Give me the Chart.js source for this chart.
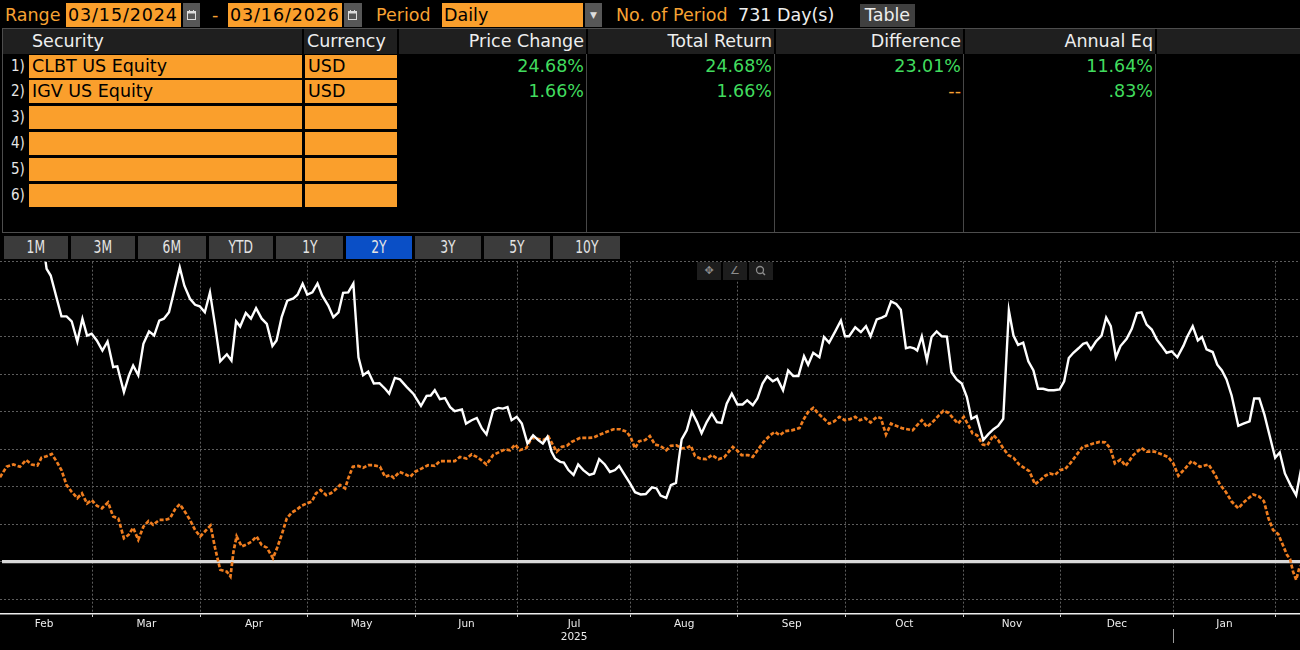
<!DOCTYPE html>
<html>
<head>
<meta charset="utf-8">
<title>CLBT vs IGV</title>
<script src="https://cdn.jsdelivr.net/npm/chart.js@4.4.1/dist/chart.umd.min.js"></script>
<style>
    html, body { margin: 0; padding: 0; background: #000; }
    body { position: relative; width: 1300px; height: 650px; overflow: hidden;
           font-family: "DejaVu Sans", sans-serif; font-size: 17.5px; color: #eeeeee; }
    .a { position: absolute; white-space: nowrap; }
    .org { color: #f7a233; top: 3px; line-height: 24px; }
    .txt { top: 3px; line-height: 24px; }
    .box { top: 3px; background: #fa9f2c; color: #000; height: 24px; line-height: 24px; padding-left: 2px; box-sizing: border-box; }
    .date { letter-spacing: 0.9px; }
    .cal { top: 3px; background: #575757; height: 24px; }
    .hdr { top: 29px; height: 25px; line-height: 25px; }
    .hbg { top: 29px; left: 3px; width: 1297px; height: 25px; background: #1f1f1f; }
    .hdiv { top: 29px; width: 2px; height: 25px; background: #000; }
    .num { color: #e6e6e6; font-family: "DejaVu Sans Condensed", "DejaVu Sans"; font-size: 15px; left: 11px; height: 23px; line-height: 23px; }
    .cell { background: #fa9f2c; height: 23px; line-height: 23px; color: #000; padding-left: 3px; box-sizing: border-box; }
    .val { color: #41dc5e; line-height: 24px; }
    .dash { color: #f7a233; line-height: 24px; }
    .vsep { width: 1px; top: 54px; height: 178px; background: #474747; }
    .btn { top: 236px; height: 23px; line-height: 23px; background: #3b3b3b; color: #e4e4e4; text-align: center;
           font-family: "DejaVu Sans Condensed", "DejaVu Sans"; font-size: 17.5px; }
    .btn span { display: inline-block; transform: scaleX(0.78); }
    .btn.on { background: #0a4fc6; }
    .tool { top: 262px; width: 24px; height: 18px; background: #1d1d1d; color: #8c8c8c; font-size: 11px;
            line-height: 18px; text-align: center; }
    #chartBox { position: absolute; left: 0; top: 258px; width: 1300px; height: 392px; }
</style>
</head>
<body>

<div class="a org" style="left:5px">Range</div>
<div class="a box date" style="left:66px;width:115px">03/15/2024</div>
<div class="a cal" style="left:183px;width:17px">
    <svg width="17" height="24"><rect x="4.5" y="8.5" width="8" height="8" fill="none" stroke="#ddd"/><rect x="4.5" y="8.5" width="8" height="2" fill="#ddd"/><line x1="6.5" y1="7" x2="6.5" y2="9" stroke="#ddd"/><line x1="10.5" y1="7" x2="10.5" y2="9" stroke="#ddd"/></svg>
</div>
<div class="a org" style="left:212px">-</div>
<div class="a box date" style="left:228px;width:114px">03/16/2026</div>
<div class="a cal" style="left:344px;width:18px">
    <svg width="18" height="24"><rect x="4.5" y="8.5" width="8" height="8" fill="none" stroke="#ddd"/><rect x="4.5" y="8.5" width="8" height="2" fill="#ddd"/><line x1="6.5" y1="7" x2="6.5" y2="9" stroke="#ddd"/><line x1="10.5" y1="7" x2="10.5" y2="9" stroke="#ddd"/></svg>
</div>
<div class="a org" style="left:376px">Period</div>
<div class="a box" style="left:442px;width:141px">Daily</div>
<div class="a cal" style="left:585px;width:17px;color:#ddd;font-size:9px;text-align:center;line-height:24px">&#9660;</div>
<div class="a org" style="left:616px">No. of Period</div>
<div class="a txt" style="left:738px">731 Day(s)</div>
<div class="a" style="left:860px;top:4px;width:55px;height:23px;line-height:23px;background:#404040;text-align:center">Table</div>

<div class="a" style="left:2px;top:28px;width:1298px;height:1px;background:#4d4d4d"></div>
<div class="a" style="left:2px;top:28px;width:1px;height:205px;background:#4d4d4d"></div>
<div class="a" style="left:2px;top:232px;width:1298px;height:1px;background:#4d4d4d"></div>

<div class="a hbg"></div>
<div class="a hdiv" style="left:302px"></div>
<div class="a hdiv" style="left:397px"></div>
<div class="a hdiv" style="left:586px"></div>
<div class="a hdiv" style="left:774px"></div>
<div class="a hdiv" style="left:963px"></div>
<div class="a hdiv" style="left:1155px"></div>
<div class="a hdr" style="left:32px">Security</div>
<div class="a hdr" style="left:307px">Currency</div>
<div class="a hdr" style="right:716px">Price Change</div>
<div class="a hdr" style="right:528px">Total Return</div>
<div class="a hdr" style="right:339px">Difference</div>
<div class="a hdr" style="right:147px">Annual Eq</div>

<div class="a vsep" style="left:586px"></div>
<div class="a vsep" style="left:774px"></div>
<div class="a vsep" style="left:963px"></div>
<div class="a vsep" style="left:1155px"></div>

<div class="a num" style="top:55px">1)</div>
<div class="a num" style="top:80px">2)</div>
<div class="a num" style="top:106px">3)</div>
<div class="a num" style="top:132px">4)</div>
<div class="a num" style="top:158px">5)</div>
<div class="a num" style="top:184px">6)</div>

<div class="a cell" style="left:29px;top:55px;width:273px">CLBT US Equity</div>
<div class="a cell" style="left:305px;top:55px;width:92px">USD</div>
<div class="a cell" style="left:29px;top:80px;width:273px">IGV US Equity</div>
<div class="a cell" style="left:305px;top:80px;width:92px">USD</div>
<div class="a cell" style="left:29px;top:106px;width:273px"></div>
<div class="a cell" style="left:305px;top:106px;width:92px"></div>
<div class="a cell" style="left:29px;top:132px;width:273px"></div>
<div class="a cell" style="left:305px;top:132px;width:92px"></div>
<div class="a cell" style="left:29px;top:158px;width:273px"></div>
<div class="a cell" style="left:305px;top:158px;width:92px"></div>
<div class="a cell" style="left:29px;top:184px;width:273px"></div>
<div class="a cell" style="left:305px;top:184px;width:92px"></div>

<div class="a val" style="top:54px;right:716px">24.68%</div>
<div class="a val" style="top:54px;right:528px">24.68%</div>
<div class="a val" style="top:54px;right:339px">23.01%</div>
<div class="a val" style="top:54px;right:147px">11.64%</div>
<div class="a val" style="top:79px;right:716px">1.66%</div>
<div class="a val" style="top:79px;right:528px">1.66%</div>
<div class="a dash" style="top:79px;right:339px">--</div>
<div class="a val" style="top:79px;right:147px">.83%</div>

<div class="a btn" style="left:4px;width:64px"><span>1M</span></div>
<div class="a btn" style="left:71px;width:64px"><span>3M</span></div>
<div class="a btn" style="left:138px;width:68px"><span>6M</span></div>
<div class="a btn" style="left:209px;width:64px"><span>YTD</span></div>
<div class="a btn" style="left:276px;width:67px"><span>1Y</span></div>
<div class="a btn on" style="left:346px;width:66px"><span>2Y</span></div>
<div class="a btn" style="left:415px;width:66px"><span>3Y</span></div>
<div class="a btn" style="left:484px;width:66px"><span>5Y</span></div>
<div class="a btn" style="left:553px;width:67px"><span>10Y</span></div>

<div id="chartBox"><canvas id="grafico" width="1300" height="392"></canvas></div>

<div class="a tool" style="left:697px">&#10021;</div>
<div class="a tool" style="left:723px">&#8736;</div>
<div class="a tool" style="left:749px">
    <svg width="24" height="18"><circle cx="11" cy="8" r="3.5" fill="none" stroke="#8c8c8c" stroke-width="1.3"/><line x1="13.5" y1="10.5" x2="16" y2="13" stroke="#8c8c8c" stroke-width="1.5"/></svg>
</div>

<script>
// x = trading day counted from the start of Feb 2025, y = % change
const monthLabels = ['Feb', 'Mar', 'Apr', 'May', 'Jun', 'Jul', 'Aug', 'Sep', 'Oct', 'Nov', 'Dec', 'Jan'];
const monthStarts = [0, 19, 40, 61, 82, 102, 124, 145, 166, 189, 208, 230, 250];
const yearMonth = 'Jul';
const yearLabel = '2025';
const yTicks = [-10, 0, 10, 20, 30, 40, 50, 60, 70, 80];

const clbtPoints = [
    [0.9, 88], [9.6, 82], [10.0, 78.1], [10.8, 76.3], [12.9, 65.4], [13.9, 65.4], [14.9, 64.1], [16.0, 58.7],
    [17.0, 64.8], [17.9, 60.3], [18.8, 60.8], [19.8, 59.0], [20.9, 56.3], [21.9, 58.7], [23.0, 51.9], [23.8, 52.1],
    [25.1, 45.2], [26.1, 49.7], [26.9, 52.3], [27.9, 49.7], [28.9, 58.1], [30.0, 61.4], [31.0, 60.3], [32.0, 64.3],
    [32.9, 64.8], [33.9, 66.5], [34.7, 71.0], [36.0, 78.5], [36.9, 73.6], [38.0, 70.1], [39.0, 68.5], [39.9, 68.1],
    [40.9, 66.5], [41.9, 71.8], [42.9, 63.0], [43.9, 53.4], [45.2, 55.3], [46.1, 53.6], [47.0, 64.1], [47.8, 62.7],
    [48.9, 66.3], [49.9, 64.8], [50.9, 67.6], [52.0, 64.8], [53.0, 63.4], [54.1, 57.5], [54.9, 59.0], [55.9, 65.2],
    [57.0, 69.6], [58.2, 70.2], [59.0, 71.2], [60.0, 74.1], [60.9, 71.2], [61.9, 71.8], [62.9, 74.2], [63.8, 71.0],
    [65.0, 68.3], [66.0, 65.2], [67.0, 66.5], [67.9, 71.7], [68.9, 71.8], [69.9, 74.2], [70.9, 54.5], [71.8, 49.7],
    [72.8, 50.7], [73.9, 47.5], [75.0, 47.6], [76.1, 46.1], [76.9, 44.8], [78.0, 49.0], [79.0, 48.6], [80.3, 46.6],
    [81.6, 44.8], [83.1, 41.5], [84.2, 44.2], [85.0, 44.3], [85.8, 45.7], [86.8, 43.3], [87.8, 43.6], [88.8, 41.2],
    [89.7, 40.1], [91.1, 40.6], [91.9, 36.8], [93.0, 37.7], [94.0, 38.3], [95.0, 35.5], [95.9, 33.9], [97.2, 40.4],
    [98.2, 41.0], [99.1, 40.8], [100.0, 41.2], [100.8, 37.7], [101.8, 38.6], [102.8, 36.8], [103.9, 31.5], [105.0, 33.7],
    [106.0, 32.4], [106.9, 31.5], [107.8, 33.3], [108.6, 29.3], [109.3, 27.5], [110.3, 26.6], [111.0, 26.4], [111.9, 24.4],
    [112.9, 23.1], [113.8, 25.9], [114.8, 24.4], [116.0, 23.1], [116.9, 23.5], [117.9, 27.3], [119.0, 25.9], [120.0, 23.9],
    [121.0, 24.4], [121.8, 25.5], [122.7, 23.5], [123.9, 20.9], [124.9, 18.5], [126.0, 17.9], [127.0, 18.0], [128.2, 19.8],
    [129.1, 19.5], [129.9, 17.6], [131.0, 17.0], [131.9, 20.4], [132.9, 21.0], [133.4, 26.6], [134.0, 32.6], [135.0, 35.0],
    [136.0, 39.9], [137.0, 37.2], [137.9, 34.2], [138.9, 37.2], [139.9, 39.5], [140.9, 37.2], [141.8, 37.0], [142.8, 42.1],
    [143.8, 44.8], [144.9, 41.9], [145.9, 41.9], [146.8, 43.0], [147.9, 41.7], [148.8, 43.5], [149.8, 47.5], [150.7, 49.4],
    [151.8, 48.1], [152.7, 48.8], [153.8, 45.7], [154.8, 51.0], [155.8, 49.5], [156.8, 49.5], [157.9, 54.8], [158.7, 52.5],
    [159.7, 55.7], [160.9, 54.5], [161.8, 59.9], [162.8, 58.4], [164.0, 61.4], [165.1, 64.3], [165.9, 60.1], [166.7, 60.1],
    [167.9, 62.5], [169.0, 61.2], [170.0, 62.8], [170.9, 60.1], [172.1, 64.6], [173.1, 65.1], [173.9, 65.6], [174.9, 69.4],
    [175.9, 68.7], [176.8, 67.2], [177.8, 56.9], [178.6, 57.2], [179.4, 56.9], [180.0, 56.3], [180.9, 60.1], [181.9, 53.7],
    [182.8, 59.9], [183.8, 61.4], [184.8, 60.1], [185.8, 60.0], [186.7, 50.5], [187.7, 48.6], [188.7, 47.5], [189.7, 43.9],
    [190.6, 38.1], [191.6, 38.8], [192.9, 32.4], [193.9, 34.0], [194.9, 35.3], [195.8, 36.2], [196.8, 38.1], [197.9, 67.0],
    [198.8, 60.3], [199.7, 57.8], [200.7, 58.4], [201.7, 53.4], [202.7, 51.0], [203.6, 46.1], [204.6, 46.1], [205.6, 45.7],
    [206.7, 45.7], [207.8, 45.9], [208.7, 48.1], [209.6, 54.3], [210.5, 55.7], [211.5, 56.9], [212.4, 58.1], [213.1, 58.4],
    [213.9, 56.6], [214.9, 58.7], [216.0, 60.3], [216.9, 65.1], [217.8, 62.8], [218.8, 54.5], [219.7, 57.5], [220.9, 59.4],
    [221.9, 62.1], [222.9, 66.3], [223.8, 66.5], [224.8, 63.2], [225.8, 61.9], [226.8, 59.2], [227.7, 57.6], [228.7, 55.7],
    [229.7, 56.1], [230.8, 54.5], [232.0, 57.6], [232.7, 59.9], [233.8, 62.8], [234.8, 59.0], [235.6, 59.9], [236.5, 56.6],
    [237.7, 55.9], [238.6, 52.5], [239.5, 51.0], [240.4, 48.6], [241.4, 44.3], [242.7, 36.2], [243.7, 36.8], [244.9, 37.4],
    [245.8, 43.5], [246.8, 43.5], [247.8, 39.2], [248.8, 33.7], [249.9, 27.7], [250.8, 29.1], [251.8, 23.5], [252.9, 20.4],
    [254.0, 17.7], [255.0, 25.0]
];

const igvPoints = [
    [0.9, 22.5], [2.2, 25.3], [3.5, 25.9], [4.8, 25.3], [6.0, 27.1], [7.1, 25.9], [8.2, 25.6], [9.0, 27.7],
    [10.0, 28.1], [11.0, 28.7], [12.0, 26.6], [12.9, 24.4], [13.9, 20.4], [14.9, 18.6], [16.0, 16.9], [16.9, 18.2],
    [17.9, 15.5], [18.8, 16.4], [19.8, 14.9], [20.8, 14.2], [22.0, 15.8], [23.0, 12.0], [24.0, 11.5], [25.1, 6.2],
    [26.0, 7.1], [26.9, 9.0], [27.9, 5.8], [28.9, 9.3], [29.9, 10.8], [30.8, 9.8], [32.0, 11.1], [33.1, 11.1],
    [34.1, 11.5], [35.1, 14.0], [36.0, 15.3], [37.0, 13.3], [38.0, 11.1], [39.0, 8.4], [40.0, 6.7], [40.9, 8.0],
    [42.0, 9.6], [42.9, 3.6], [43.9, -2.2], [45.2, -2.7], [45.9, -4.0], [46.5, 2.7], [47.1, 6.7], [48.1, 4.0],
    [49.1, 4.6], [50.0, 5.3], [51.0, 6.7], [52.0, 4.4], [53.0, 3.7], [54.2, 0.9], [55.0, 3.6], [55.9, 7.1],
    [56.9, 11.5], [57.9, 13.1], [58.8, 13.8], [59.8, 14.9], [60.8, 15.5], [61.8, 16.0], [62.6, 18.2], [63.5, 19.1],
    [64.6, 17.7], [65.5, 18.2], [66.3, 19.1], [67.3, 20.4], [68.3, 19.5], [68.9, 22.2], [69.8, 25.3], [70.9, 25.5],
    [71.8, 25.0], [72.8, 25.7], [73.8, 25.7], [75.1, 25.3], [76.1, 22.6], [77.1, 23.1], [77.8, 22.3], [78.9, 23.9],
    [80.0, 23.3], [81.0, 22.6], [81.9, 23.9], [83.2, 24.8], [84.5, 25.7], [85.8, 25.5], [86.8, 26.8], [88.1, 26.8],
    [89.7, 26.8], [90.7, 27.9], [92.0, 27.5], [93.0, 28.6], [94.3, 27.7], [95.9, 25.9], [97.2, 28.4], [98.5, 29.3],
    [99.5, 29.9], [100.5, 29.7], [101.5, 31.2], [102.4, 29.7], [103.7, 30.3], [104.7, 33.0], [105.7, 32.8], [107.0, 32.4],
    [108.0, 33.3], [108.9, 31.0], [109.6, 29.3], [110.6, 30.6], [111.6, 30.9], [112.5, 31.9], [114.2, 33.0], [115.8, 33.0],
    [116.8, 33.1], [118.1, 33.9], [119.4, 34.6], [120.7, 35.3], [122.0, 35.3], [123.3, 34.6], [124.1, 33.0], [124.9, 30.2],
    [125.7, 32.1], [126.9, 32.4], [127.8, 33.5], [128.8, 31.2], [129.8, 30.9], [131.0, 29.7], [131.9, 30.9], [133.0, 31.0],
    [134.0, 30.2], [135.0, 30.3], [135.8, 30.9], [136.6, 28.2], [137.6, 27.5], [138.8, 27.3], [139.9, 28.4], [141.2, 27.3],
    [142.3, 27.8], [143.1, 29.1], [144.0, 30.6], [144.8, 29.7], [145.7, 28.4], [147.0, 28.4], [147.9, 27.9], [149.0, 30.0],
    [150.0, 31.9], [151.3, 33.7], [152.2, 34.6], [153.2, 33.7], [154.2, 34.8], [155.5, 35.0], [157.0, 35.6], [157.9, 38.1],
    [158.7, 39.9], [159.7, 41.0], [160.9, 39.2], [161.8, 38.1], [162.8, 36.8], [163.8, 37.4], [164.8, 38.6], [165.9, 37.7],
    [166.9, 38.0], [167.9, 38.6], [168.8, 37.7], [169.8, 38.3], [170.9, 37.1], [172.1, 38.6], [172.9, 38.3], [173.9, 33.9],
    [174.9, 36.8], [175.9, 36.2], [177.0, 35.6], [178.1, 35.3], [179.1, 35.0], [180.0, 36.4], [180.9, 37.7], [181.9, 35.9],
    [183.0, 37.2], [184.1, 38.8], [185.1, 40.2], [186.1, 39.7], [187.1, 38.1], [188.0, 36.8], [189.1, 38.6], [190.0, 36.4],
    [190.8, 34.2], [191.7, 33.7], [192.8, 31.2], [193.7, 31.0], [194.9, 33.7], [195.8, 32.4], [196.8, 30.2], [197.8, 28.4],
    [198.8, 27.7], [199.9, 25.9], [200.9, 25.0], [201.9, 24.1], [203.0, 20.6], [204.0, 21.7], [205.0, 22.9], [205.9, 23.5],
    [206.9, 23.1], [207.9, 24.4], [208.9, 24.7], [210.0, 26.4], [211.2, 28.6], [212.3, 30.6], [213.4, 31.0], [214.4, 31.5],
    [215.6, 31.9], [216.7, 31.8], [217.7, 30.2], [218.6, 26.2], [219.7, 27.2], [220.7, 25.5], [222.2, 28.4], [223.8, 30.3],
    [224.8, 29.3], [226.4, 29.3], [227.7, 28.6], [229.0, 27.9], [230.0, 26.2], [231.0, 22.9], [232.3, 24.8], [233.6, 26.8],
    [235.2, 25.3], [236.9, 25.9], [238.2, 23.1], [239.1, 20.6], [240.3, 18.5], [241.4, 16.0], [242.7, 14.2], [244.0, 16.1],
    [245.6, 17.9], [246.8, 17.3], [247.7, 16.1], [248.6, 11.5], [249.5, 8.4], [250.5, 7.3], [251.4, 4.4], [252.2, 1.8],
    [252.8, 0.7], [253.4, -2.7], [254.0, -4.9], [254.6, -1.8], [255.0, -1.0]
];

// month names sit halfway between two month boundaries
const labelTicks = monthLabels.map((m, i) => (monthStarts[i] + monthStarts[i + 1]) / 2);

const gridColor = '#5c5c5c';

const zeroLine = {
    id: 'zeroLine',
    beforeDatasetsDraw(chart) {
        const { ctx, chartArea, scales } = chart;
        const y = scales.y.getPixelForValue(0);
        ctx.save();
        ctx.strokeStyle = '#d9d9d9';
        ctx.lineWidth = 3.3;
        ctx.beginPath();
        ctx.moveTo(chartArea.left + 2, y);
        ctx.lineTo(chartArea.right, y);
        ctx.stroke();

        // small year separator under the Jan boundary
        const x = Math.round(scales.x.getPixelForValue(monthStarts[11])) + 0.5;
        ctx.strokeStyle = '#9a9a9a';
        ctx.lineWidth = 1;
        ctx.beginPath();
        ctx.moveTo(x, chartArea.bottom + 15);
        ctx.lineTo(x, chartArea.bottom + 29);
        ctx.stroke();
        ctx.restore();
    }
};

const ctx = document.getElementById('grafico').getContext('2d');
const chart = new Chart(ctx, {
    type: 'line',
    data: {
        datasets: [{
            label: 'CLBT US Equity',
            data: clbtPoints.map(p => ({ x: p[0], y: p[1] })),
            borderColor: '#ffffff',
            borderWidth: 2.4,
            pointRadius: 0,
            tension: 0
        }, {
            label: 'IGV US Equity',
            data: igvPoints.map(p => ({ x: p[0], y: p[1] })),
            borderColor: '#ef7d1f',
            borderWidth: 2.7,
            borderDash: [4, 2],
            pointRadius: 0,
            tension: 0
        }]
    },
    options: {
        responsive: false,
        animation: false,
        devicePixelRatio: 1,
        layout: { padding: { top: 3.7, bottom: 5.7, left: 0, right: 0 } },
        plugins: {
            legend: { display: false },
            tooltip: { enabled: false }
        },
        scales: {
            x: {
                type: 'linear',
                min: 0.9,
                max: 254.75,
                afterBuildTicks: scale => {
                    const vals = monthStarts.concat(labelTicks)
                        .filter(v => v >= scale.min && v <= scale.max)
                        .sort((a, b) => a - b);
                    scale.ticks = vals.map(v => ({ value: v }));
                },
                ticks: {
                    autoSkip: false,
                    maxRotation: 0,
                    minRotation: 0,
                    padding: 0,
                    color: '#ececec',
                    font: { family: 'DejaVu Sans', size: 10.5, lineHeight: 1.3 },
                    callback: value => {
                        const i = labelTicks.indexOf(value);
                        if (i < 0) return '';
                        return monthLabels[i] === yearMonth ? [monthLabels[i], yearLabel] : monthLabels[i];
                    }
                },
                grid: {
                    color: c => (c.tick && monthStarts.includes(c.tick.value)) ? gridColor : 'transparent',
                    tickColor: c => (c.tick && monthStarts.includes(c.tick.value)) ? '#cfcfcf' : 'transparent',
                    lineWidth: 1,
                    tickLength: 3
                },
                border: { display: true, color: '#ececec', width: 1.5, dash: [2, 2] }
            },
            y: {
                position: 'right',
                min: -14,
                max: 80,
                afterBuildTicks: scale => {
                    scale.ticks = yTicks.map(v => ({ value: v }));
                },
                ticks: { display: false },
                grid: { color: gridColor, lineWidth: 1, drawTicks: false },
                border: { display: false, dash: [2, 2] }
            }
        }
    },
    plugins: [zeroLine]
});
</script>
</body>
</html>
